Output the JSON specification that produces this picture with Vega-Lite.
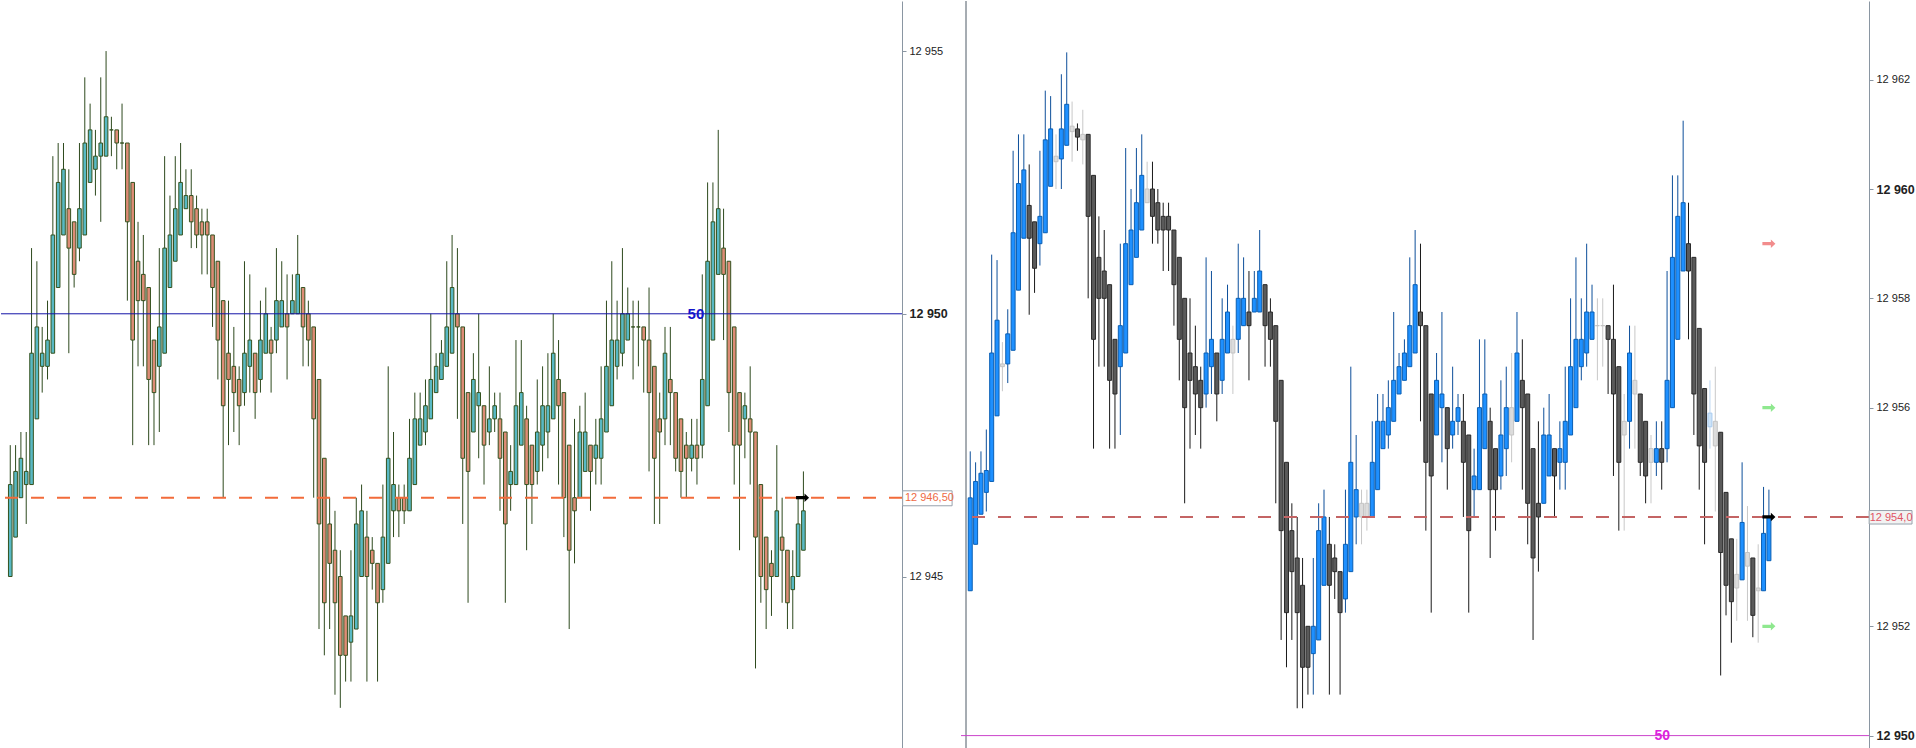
{
"$schema": "https://vega.github.io/schema/vega-lite/v6.json",
"padding": 0,
"background": "white",
"spacing": 0,
"resolve": {"scale": {"color": "independent", "fill": "independent", "stroke": "independent"}},
"config": {"view": {"stroke": null}, "font": "Liberation Sans"},
"datasets": {
"L": [
{"i":1,"o":12945,"h":12947.5,"l":12945,"c":12946.75,"k":"u"},
{"i":2,"o":12945.75,"h":12947.5,"l":12945.75,"c":12947,"k":"u"},
{"i":3,"o":12946.5,"h":12947.75,"l":12946.5,"c":12947.25,"k":"u"},
{"i":4,"o":12946.75,"h":12947.75,"l":12946,"c":12947,"k":"u"},
{"i":5,"o":12946.75,"h":12951.25,"l":12946.75,"c":12949.25,"k":"u"},
{"i":6,"o":12948,"h":12951,"l":12948,"c":12949.75,"k":"u"},
{"i":7,"o":12949,"h":12949.75,"l":12948.5,"c":12949.25,"k":"u"},
{"i":8,"o":12949,"h":12950.25,"l":12948.75,"c":12949.5,"k":"u"},
{"i":9,"o":12949.25,"h":12953,"l":12949.25,"c":12951.5,"k":"u"},
{"i":10,"o":12950.5,"h":12953.25,"l":12950.5,"c":12952.5,"k":"u"},
{"i":11,"o":12951.5,"h":12953.25,"l":12951.5,"c":12952.75,"k":"u"},
{"i":12,"o":12952,"h":12952.75,"l":12949.25,"c":12951.25,"k":"d"},
{"i":13,"o":12951.75,"h":12951.75,"l":12950.5,"c":12950.75,"k":"d"},
{"i":14,"o":12951.25,"h":12953.25,"l":12951,"c":12952,"k":"u"},
{"i":15,"o":12951.5,"h":12954.5,"l":12951.5,"c":12953.25,"k":"u"},
{"i":16,"o":12952.5,"h":12954,"l":12952.5,"c":12953.5,"k":"u"},
{"i":17,"o":12952.75,"h":12953.5,"l":12952.25,"c":12953,"k":"u"},
{"i":18,"o":12953,"h":12954.5,"l":12951.75,"c":12953.25,"k":"u"},
{"i":19,"o":12953,"h":12955,"l":12953,"c":12953.75,"k":"u"},
{"i":20,"o":12953.5,"h":12953.75,"l":12953,"c":12953.5,"k":"n"},
{"i":21,"o":12953.5,"h":12953.5,"l":12952.75,"c":12953.25,"k":"d"},
{"i":22,"o":12953.25,"h":12954,"l":12952.75,"c":12953.25,"k":"n"},
{"i":23,"o":12953.25,"h":12953.25,"l":12950.25,"c":12951.75,"k":"d"},
{"i":24,"o":12952.5,"h":12952.5,"l":12947.5,"c":12949.5,"k":"d"},
{"i":25,"o":12951,"h":12951.75,"l":12949,"c":12950.25,"k":"d"},
{"i":26,"o":12950.75,"h":12951.5,"l":12949,"c":12950.25,"k":"d"},
{"i":27,"o":12950.5,"h":12950.5,"l":12947.5,"c":12948.75,"k":"d"},
{"i":28,"o":12949.5,"h":12949.5,"l":12947.5,"c":12948.5,"k":"d"},
{"i":29,"o":12949,"h":12951.25,"l":12947.75,"c":12949.75,"k":"u"},
{"i":30,"o":12949.25,"h":12953,"l":12949.25,"c":12951.25,"k":"u"},
{"i":31,"o":12950.5,"h":12952.25,"l":12950.5,"c":12951.5,"k":"u"},
{"i":32,"o":12951,"h":12953,"l":12951,"c":12952,"k":"u"},
{"i":33,"o":12951.5,"h":12953.25,"l":12951.5,"c":12952.5,"k":"u"},
{"i":34,"o":12952,"h":12952.75,"l":12952,"c":12952.25,"k":"u"},
{"i":35,"o":12952.25,"h":12952.75,"l":12951.25,"c":12951.75,"k":"d"},
{"i":36,"o":12952,"h":12952.25,"l":12951.25,"c":12951.5,"k":"d"},
{"i":37,"o":12951.75,"h":12952,"l":12950.75,"c":12951.5,"k":"d"},
{"i":38,"o":12951.75,"h":12952,"l":12950.75,"c":12951.5,"k":"d"},
{"i":39,"o":12951.5,"h":12951.5,"l":12949.75,"c":12950.5,"k":"d"},
{"i":40,"o":12951,"h":12951,"l":12948.75,"c":12949.5,"k":"d"},
{"i":41,"o":12950.25,"h":12950.25,"l":12946.5,"c":12948.25,"k":"d"},
{"i":42,"o":12949.25,"h":12950.25,"l":12947.5,"c":12948.75,"k":"d"},
{"i":43,"o":12949,"h":12949.75,"l":12947.75,"c":12948.5,"k":"d"},
{"i":44,"o":12948.75,"h":12949,"l":12947.5,"c":12948.25,"k":"d"},
{"i":45,"o":12948.5,"h":12951,"l":12948.25,"c":12949.25,"k":"u"},
{"i":46,"o":12949,"h":12950.75,"l":12948.5,"c":12949.5,"k":"u"},
{"i":47,"o":12949.25,"h":12949.25,"l":12948,"c":12948.5,"k":"d"},
{"i":48,"o":12948.75,"h":12950.25,"l":12948.5,"c":12949.5,"k":"u"},
{"i":49,"o":12949.25,"h":12950.5,"l":12949.25,"c":12950,"k":"u"},
{"i":50,"o":12949.5,"h":12949.75,"l":12948.5,"c":12949.25,"k":"d"},
{"i":51,"o":12949.5,"h":12951.25,"l":12949.25,"c":12950.25,"k":"u"},
{"i":52,"o":12949.75,"h":12951,"l":12949.75,"c":12950.25,"k":"u"},
{"i":53,"o":12950,"h":12950.75,"l":12948.75,"c":12949.75,"k":"d"},
{"i":54,"o":12950,"h":12950.75,"l":12950,"c":12950.25,"k":"u"},
{"i":55,"o":12950,"h":12951.5,"l":12950,"c":12950.75,"k":"u"},
{"i":56,"o":12950.5,"h":12950.5,"l":12949,"c":12949.75,"k":"d"},
{"i":57,"o":12950,"h":12950.25,"l":12949,"c":12949.5,"k":"d"},
{"i":58,"o":12949.75,"h":12949.75,"l":12946.5,"c":12948,"k":"d"},
{"i":59,"o":12948.75,"h":12948.75,"l":12944,"c":12946,"k":"d"},
{"i":60,"o":12947.25,"h":12947.25,"l":12943.5,"c":12944.5,"k":"d"},
{"i":61,"o":12946,"h":12946.5,"l":12944,"c":12945.25,"k":"d"},
{"i":62,"o":12945.5,"h":12946.25,"l":12942.75,"c":12944.5,"k":"d"},
{"i":63,"o":12945,"h":12945.5,"l":12942.5,"c":12943.5,"k":"d"},
{"i":64,"o":12944.25,"h":12944.25,"l":12943,"c":12943.5,"k":"d"},
{"i":65,"o":12943.75,"h":12945.5,"l":12943,"c":12944.25,"k":"u"},
{"i":66,"o":12944,"h":12946.5,"l":12944,"c":12946,"k":"u"},
{"i":67,"o":12945,"h":12946.75,"l":12945,"c":12946.25,"k":"u"},
{"i":68,"o":12945.75,"h":12946.25,"l":12943,"c":12945,"k":"d"},
{"i":69,"o":12945.5,"h":12945.75,"l":12944.75,"c":12945.25,"k":"d"},
{"i":70,"o":12945.25,"h":12945.25,"l":12943,"c":12944.5,"k":"d"},
{"i":71,"o":12944.75,"h":12946.75,"l":12944.5,"c":12945.75,"k":"u"},
{"i":72,"o":12945.25,"h":12949,"l":12945.25,"c":12947.25,"k":"u"},
{"i":73,"o":12946.25,"h":12947.75,"l":12945.75,"c":12946.75,"k":"u"},
{"i":74,"o":12946.5,"h":12946.75,"l":12945.75,"c":12946.25,"k":"d"},
{"i":75,"o":12946.5,"h":12946.75,"l":12946,"c":12946.25,"k":"d"},
{"i":76,"o":12946.25,"h":12948,"l":12946.25,"c":12947.25,"k":"u"},
{"i":77,"o":12946.75,"h":12948.5,"l":12946.75,"c":12948,"k":"u"},
{"i":78,"o":12947.5,"h":12948.5,"l":12947.5,"c":12948,"k":"u"},
{"i":79,"o":12947.75,"h":12948.75,"l":12947.5,"c":12948.25,"k":"u"},
{"i":80,"o":12948,"h":12950,"l":12948,"c":12948.75,"k":"u"},
{"i":81,"o":12948.5,"h":12949.25,"l":12948.5,"c":12949,"k":"u"},
{"i":82,"o":12948.75,"h":12949.5,"l":12948.75,"c":12949.25,"k":"u"},
{"i":83,"o":12949,"h":12951,"l":12949,"c":12949.75,"k":"u"},
{"i":84,"o":12949.25,"h":12951.5,"l":12949.25,"c":12950.5,"k":"u"},
{"i":85,"o":12950,"h":12951.25,"l":12948,"c":12949.75,"k":"d"},
{"i":86,"o":12949.75,"h":12949.75,"l":12946,"c":12947.25,"k":"d"},
{"i":87,"o":12948.5,"h":12948.5,"l":12944.5,"c":12947,"k":"d"},
{"i":88,"o":12947.75,"h":12949.25,"l":12947.75,"c":12948.75,"k":"u"},
{"i":89,"o":12948.25,"h":12950,"l":12947.25,"c":12948.5,"k":"u"},
{"i":90,"o":12948.25,"h":12948.25,"l":12946.75,"c":12947.5,"k":"d"},
{"i":91,"o":12947.75,"h":12949,"l":12947.5,"c":12948,"k":"u"},
{"i":92,"o":12948,"h":12948.5,"l":12947.75,"c":12948.25,"k":"u"},
{"i":93,"o":12948,"h":12948.5,"l":12946.25,"c":12947.25,"k":"d"},
{"i":94,"o":12947.75,"h":12947.75,"l":12944.5,"c":12946,"k":"d"},
{"i":95,"o":12946.75,"h":12947.5,"l":12946.25,"c":12947,"k":"u"},
{"i":96,"o":12946.75,"h":12949.5,"l":12946.75,"c":12948.25,"k":"u"},
{"i":97,"o":12947.5,"h":12949.5,"l":12947.5,"c":12948.5,"k":"u"},
{"i":98,"o":12948,"h":12948.25,"l":12945.5,"c":12946.75,"k":"d"},
{"i":99,"o":12947.5,"h":12947.5,"l":12946,"c":12946.75,"k":"d"},
{"i":100,"o":12947,"h":12948.75,"l":12946.75,"c":12947.75,"k":"u"},
{"i":101,"o":12947.5,"h":12949,"l":12947,"c":12948.25,"k":"u"},
{"i":102,"o":12947.75,"h":12949.25,"l":12947.25,"c":12948.25,"k":"u"},
{"i":103,"o":12948,"h":12950,"l":12948,"c":12949.25,"k":"u"},
{"i":104,"o":12948.75,"h":12949.5,"l":12946.75,"c":12948.25,"k":"d"},
{"i":105,"o":12948.5,"h":12948.5,"l":12945.75,"c":12946.5,"k":"d"},
{"i":106,"o":12947.5,"h":12947.5,"l":12944,"c":12945.5,"k":"d"},
{"i":107,"o":12946.5,"h":12948,"l":12945.25,"c":12946.25,"k":"d"},
{"i":108,"o":12946.5,"h":12948.25,"l":12946.5,"c":12947.75,"k":"u"},
{"i":109,"o":12947,"h":12948.5,"l":12947,"c":12947.75,"k":"u"},
{"i":110,"o":12947.5,"h":12947.5,"l":12946.25,"c":12947,"k":"d"},
{"i":111,"o":12947.25,"h":12948,"l":12946.75,"c":12947.5,"k":"u"},
{"i":112,"o":12947.25,"h":12949,"l":12946.75,"c":12948,"k":"u"},
{"i":113,"o":12947.75,"h":12950.25,"l":12947.75,"c":12949,"k":"u"},
{"i":114,"o":12948.25,"h":12951,"l":12948.25,"c":12949.5,"k":"u"},
{"i":115,"o":12949,"h":12950.25,"l":12948.75,"c":12949.5,"k":"u"},
{"i":116,"o":12949.25,"h":12951.25,"l":12949,"c":12950,"k":"u"},
{"i":117,"o":12949.5,"h":12950.5,"l":12949.5,"c":12950,"k":"u"},
{"i":118,"o":12949.75,"h":12950.25,"l":12948.75,"c":12949.75,"k":"n"},
{"i":119,"o":12949.75,"h":12950.25,"l":12949,"c":12949.75,"k":"n"},
{"i":120,"o":12949.75,"h":12949.75,"l":12948.5,"c":12949.5,"k":"d"},
{"i":121,"o":12949.5,"h":12950.5,"l":12947,"c":12948.5,"k":"d"},
{"i":122,"o":12949,"h":12949,"l":12946,"c":12947.25,"k":"d"},
{"i":123,"o":12948,"h":12948.5,"l":12946,"c":12947.75,"k":"d"},
{"i":124,"o":12948,"h":12949.75,"l":12947.5,"c":12949.25,"k":"u"},
{"i":125,"o":12948.75,"h":12949.75,"l":12947.5,"c":12948.5,"k":"d"},
{"i":126,"o":12948.5,"h":12948.5,"l":12947,"c":12947.25,"k":"d"},
{"i":127,"o":12948,"h":12948,"l":12946.5,"c":12947,"k":"d"},
{"i":128,"o":12947.5,"h":12947.75,"l":12946.5,"c":12947.25,"k":"d"},
{"i":129,"o":12947.25,"h":12948,"l":12947,"c":12947.5,"k":"u"},
{"i":130,"o":12947.5,"h":12948,"l":12946.75,"c":12947.25,"k":"d"},
{"i":131,"o":12947.5,"h":12950.75,"l":12947.25,"c":12948.75,"k":"u"},
{"i":132,"o":12948.25,"h":12952.5,"l":12948.25,"c":12951,"k":"u"},
{"i":133,"o":12949.5,"h":12952.5,"l":12949.5,"c":12951.75,"k":"u"},
{"i":134,"o":12950.75,"h":12953.5,"l":12950.75,"c":12952,"k":"u"},
{"i":135,"o":12951.25,"h":12952,"l":12949.5,"c":12950.75,"k":"d"},
{"i":136,"o":12951,"h":12951,"l":12947.75,"c":12948.5,"k":"d"},
{"i":137,"o":12949.75,"h":12949.75,"l":12946.75,"c":12947.5,"k":"d"},
{"i":138,"o":12948.5,"h":12948.5,"l":12945.5,"c":12947.5,"k":"d"},
{"i":139,"o":12948,"h":12948.5,"l":12947.25,"c":12948.25,"k":"u"},
{"i":140,"o":12948,"h":12949,"l":12946.75,"c":12947.75,"k":"d"},
{"i":141,"o":12947.75,"h":12947.75,"l":12943.25,"c":12945.75,"k":"d"},
{"i":142,"o":12946.75,"h":12946.75,"l":12944.5,"c":12945,"k":"d"},
{"i":143,"o":12945.75,"h":12945.75,"l":12944,"c":12944.75,"k":"d"},
{"i":144,"o":12945.25,"h":12945.5,"l":12944.25,"c":12945,"k":"d"},
{"i":145,"o":12945,"h":12947.5,"l":12945,"c":12946.25,"k":"u"},
{"i":146,"o":12945.75,"h":12946.5,"l":12944.5,"c":12945.5,"k":"d"},
{"i":147,"o":12945.5,"h":12945.5,"l":12944,"c":12944.5,"k":"d"},
{"i":148,"o":12944.75,"h":12945.5,"l":12944,"c":12945,"k":"u"},
{"i":149,"o":12945,"h":12946.5,"l":12945,"c":12946,"k":"u"},
{"i":150,"o":12945.5,"h":12947,"l":12945.5,"c":12946.25,"k":"u"}
],
"R": [
{"i":1,"o":12952.65,"h":12955.2,"l":12952.65,"c":12954.35,"k":"u"},
{"i":2,"o":12953.5,"h":12955,"l":12953.5,"c":12954.65,"k":"u"},
{"i":3,"o":12954.05,"h":12955.2,"l":12954.05,"c":12954.8,"k":"u"},
{"i":4,"o":12954.45,"h":12955.6,"l":12954.1,"c":12954.85,"k":"u"},
{"i":5,"o":12954.65,"h":12958.8,"l":12954.65,"c":12957,"k":"u"},
{"i":6,"o":12955.85,"h":12958.7,"l":12955.85,"c":12957.6,"k":"u"},
{"i":7,"o":12956.75,"h":12957.2,"l":12956.3,"c":12956.8,"k":"g"},
{"i":8,"o":12956.8,"h":12957.8,"l":12956.45,"c":12957.35,"k":"u"},
{"i":9,"o":12957.05,"h":12960.7,"l":12957.05,"c":12959.2,"k":"u"},
{"i":10,"o":12958.15,"h":12961,"l":12958.15,"c":12960.1,"k":"u"},
{"i":11,"o":12959.1,"h":12961,"l":12959.1,"c":12960.35,"k":"u"},
{"i":12,"o":12959.7,"h":12960.45,"l":12957.7,"c":12959.1,"k":"d"},
{"i":13,"o":12959.4,"h":12959.4,"l":12958.1,"c":12958.55,"k":"d"},
{"i":14,"o":12959,"h":12960.7,"l":12958.6,"c":12959.5,"k":"u"},
{"i":15,"o":12959.2,"h":12961.8,"l":12959.2,"c":12960.9,"k":"u"},
{"i":16,"o":12960.05,"h":12961.7,"l":12960.05,"c":12961.1,"k":"u"},
{"i":17,"o":12960.5,"h":12961,"l":12960,"c":12960.6,"k":"g"},
{"i":18,"o":12960.55,"h":12962.1,"l":12960,"c":12961.1,"k":"u"},
{"i":19,"o":12960.8,"h":12962.5,"l":12960.8,"c":12961.55,"k":"u"},
{"i":20,"o":12961.05,"h":12961.6,"l":12960.5,"c":12961.15,"k":"g"},
{"i":21,"o":12961.1,"h":12961.2,"l":12960.7,"c":12960.95,"k":"d"},
{"i":22,"o":12960.9,"h":12961.45,"l":12960.45,"c":12961,"k":"g"},
{"i":23,"o":12961,"h":12961,"l":12958,"c":12959.5,"k":"d"},
{"i":24,"o":12960.25,"h":12960.25,"l":12955.25,"c":12957.25,"k":"d"},
{"i":25,"o":12958.75,"h":12959.5,"l":12956.75,"c":12958,"k":"d"},
{"i":26,"o":12958.5,"h":12959.25,"l":12956.75,"c":12958,"k":"d"},
{"i":27,"o":12958.25,"h":12958.25,"l":12955.25,"c":12956.5,"k":"d"},
{"i":28,"o":12957.25,"h":12957.25,"l":12955.25,"c":12956.25,"k":"d"},
{"i":29,"o":12956.75,"h":12959,"l":12955.5,"c":12957.5,"k":"u"},
{"i":30,"o":12957,"h":12960.75,"l":12957,"c":12959,"k":"u"},
{"i":31,"o":12958.25,"h":12960,"l":12958.25,"c":12959.25,"k":"u"},
{"i":32,"o":12958.75,"h":12960.75,"l":12958.75,"c":12959.75,"k":"u"},
{"i":33,"o":12959.25,"h":12961,"l":12959.25,"c":12960.25,"k":"u"},
{"i":34,"o":12959.75,"h":12960.5,"l":12959.75,"c":12960,"k":"g"},
{"i":35,"o":12960,"h":12960.5,"l":12959,"c":12959.5,"k":"d"},
{"i":36,"o":12959.75,"h":12960,"l":12959,"c":12959.25,"k":"d"},
{"i":37,"o":12959.5,"h":12959.75,"l":12958.5,"c":12959.25,"k":"d"},
{"i":38,"o":12959.5,"h":12959.75,"l":12958.5,"c":12959.25,"k":"d"},
{"i":39,"o":12959.25,"h":12959.25,"l":12957.5,"c":12958.25,"k":"d"},
{"i":40,"o":12958.75,"h":12958.75,"l":12956.5,"c":12957.25,"k":"d"},
{"i":41,"o":12958,"h":12958,"l":12954.25,"c":12956,"k":"d"},
{"i":42,"o":12957,"h":12958,"l":12955.25,"c":12956.5,"k":"d"},
{"i":43,"o":12956.75,"h":12957.5,"l":12955.5,"c":12956.25,"k":"d"},
{"i":44,"o":12956.5,"h":12956.75,"l":12955.25,"c":12956,"k":"d"},
{"i":45,"o":12956.25,"h":12958.75,"l":12956,"c":12957,"k":"u"},
{"i":46,"o":12956.75,"h":12958.5,"l":12956.25,"c":12957.25,"k":"u"},
{"i":47,"o":12957,"h":12957,"l":12955.75,"c":12956.25,"k":"d"},
{"i":48,"o":12956.5,"h":12958,"l":12956.25,"c":12957.25,"k":"u"},
{"i":49,"o":12957,"h":12958.25,"l":12957,"c":12957.75,"k":"u"},
{"i":50,"o":12957.25,"h":12957.5,"l":12956.25,"c":12957,"k":"g"},
{"i":51,"o":12957.25,"h":12959,"l":12957,"c":12958,"k":"u"},
{"i":52,"o":12957.5,"h":12958.75,"l":12957.5,"c":12958,"k":"u"},
{"i":53,"o":12957.75,"h":12958.5,"l":12956.5,"c":12957.5,"k":"d"},
{"i":54,"o":12957.75,"h":12958.5,"l":12957.75,"c":12958,"k":"u"},
{"i":55,"o":12957.75,"h":12959.25,"l":12957.75,"c":12958.5,"k":"u"},
{"i":56,"o":12958.25,"h":12958.25,"l":12956.75,"c":12957.5,"k":"d"},
{"i":57,"o":12957.75,"h":12958,"l":12956.75,"c":12957.25,"k":"d"},
{"i":58,"o":12957.5,"h":12957.5,"l":12954.25,"c":12955.75,"k":"d"},
{"i":59,"o":12956.5,"h":12956.5,"l":12951.75,"c":12953.75,"k":"d"},
{"i":60,"o":12955,"h":12955,"l":12951.25,"c":12952.25,"k":"d"},
{"i":61,"o":12953.75,"h":12954.25,"l":12951.75,"c":12953,"k":"d"},
{"i":62,"o":12953.25,"h":12954,"l":12950.5,"c":12952.25,"k":"d"},
{"i":63,"o":12952.75,"h":12953.25,"l":12950.5,"c":12951.25,"k":"d"},
{"i":64,"o":12952,"h":12952,"l":12950.75,"c":12951.25,"k":"d"},
{"i":65,"o":12951.5,"h":12953.25,"l":12950.75,"c":12952,"k":"u"},
{"i":66,"o":12951.75,"h":12954.25,"l":12951.75,"c":12953.75,"k":"u"},
{"i":67,"o":12952.75,"h":12954.5,"l":12952.75,"c":12954,"k":"u"},
{"i":68,"o":12953.5,"h":12954,"l":12950.75,"c":12952.75,"k":"d"},
{"i":69,"o":12953.25,"h":12953.5,"l":12952.5,"c":12953,"k":"d"},
{"i":70,"o":12953,"h":12953,"l":12950.75,"c":12952.25,"k":"d"},
{"i":71,"o":12952.5,"h":12954.5,"l":12952.25,"c":12953.5,"k":"u"},
{"i":72,"o":12953,"h":12956.75,"l":12953,"c":12955,"k":"u"},
{"i":73,"o":12954,"h":12955.5,"l":12953.5,"c":12954.5,"k":"u"},
{"i":74,"o":12954.25,"h":12954.5,"l":12953.5,"c":12954,"k":"g"},
{"i":75,"o":12954.25,"h":12954.5,"l":12953.75,"c":12954,"k":"g"},
{"i":76,"o":12954,"h":12955.75,"l":12954,"c":12955,"k":"u"},
{"i":77,"o":12954.5,"h":12956.25,"l":12954.5,"c":12955.75,"k":"u"},
{"i":78,"o":12955.25,"h":12956.25,"l":12955.25,"c":12955.75,"k":"u"},
{"i":79,"o":12955.5,"h":12956.5,"l":12955.25,"c":12956,"k":"u"},
{"i":80,"o":12955.75,"h":12957.75,"l":12955.75,"c":12956.5,"k":"u"},
{"i":81,"o":12956.25,"h":12957,"l":12956.25,"c":12956.75,"k":"u"},
{"i":82,"o":12956.5,"h":12957.25,"l":12956.5,"c":12957,"k":"u"},
{"i":83,"o":12956.75,"h":12958.75,"l":12956.75,"c":12957.5,"k":"u"},
{"i":84,"o":12957,"h":12959.25,"l":12957,"c":12958.25,"k":"u"},
{"i":85,"o":12957.75,"h":12959,"l":12955.75,"c":12957.5,"k":"d"},
{"i":86,"o":12957.5,"h":12957.5,"l":12953.75,"c":12955,"k":"d"},
{"i":87,"o":12956.25,"h":12956.25,"l":12952.25,"c":12954.75,"k":"d"},
{"i":88,"o":12955.5,"h":12957,"l":12955.5,"c":12956.5,"k":"u"},
{"i":89,"o":12956,"h":12957.75,"l":12955,"c":12956.25,"k":"u"},
{"i":90,"o":12956,"h":12956,"l":12954.5,"c":12955.25,"k":"d"},
{"i":91,"o":12955.5,"h":12956.75,"l":12955.25,"c":12955.75,"k":"u"},
{"i":92,"o":12955.75,"h":12956.25,"l":12955.5,"c":12956,"k":"u"},
{"i":93,"o":12955.75,"h":12956.25,"l":12954,"c":12955,"k":"d"},
{"i":94,"o":12955.5,"h":12955.5,"l":12952.25,"c":12953.75,"k":"d"},
{"i":95,"o":12954.5,"h":12955.25,"l":12954,"c":12954.75,"k":"u"},
{"i":96,"o":12954.5,"h":12957.25,"l":12954.5,"c":12956,"k":"u"},
{"i":97,"o":12955.25,"h":12957.25,"l":12955.25,"c":12956.25,"k":"u"},
{"i":98,"o":12955.75,"h":12956,"l":12953.25,"c":12954.5,"k":"d"},
{"i":99,"o":12955.25,"h":12955.25,"l":12953.75,"c":12954.5,"k":"d"},
{"i":100,"o":12954.75,"h":12956.5,"l":12954.5,"c":12955.5,"k":"u"},
{"i":101,"o":12955.25,"h":12956.75,"l":12954.75,"c":12956,"k":"u"},
{"i":102,"o":12955.5,"h":12957,"l":12955,"c":12956,"k":"g"},
{"i":103,"o":12955.75,"h":12957.75,"l":12955.75,"c":12957,"k":"u"},
{"i":104,"o":12956.5,"h":12957.25,"l":12954.5,"c":12956,"k":"d"},
{"i":105,"o":12956.25,"h":12956.25,"l":12953.5,"c":12954.25,"k":"d"},
{"i":106,"o":12955.25,"h":12955.25,"l":12951.75,"c":12953.25,"k":"d"},
{"i":107,"o":12954.25,"h":12955.75,"l":12953,"c":12954,"k":"d"},
{"i":108,"o":12954.25,"h":12956,"l":12954.25,"c":12955.5,"k":"u"},
{"i":109,"o":12954.75,"h":12956.25,"l":12954.75,"c":12955.5,"k":"u"},
{"i":110,"o":12955.25,"h":12955.25,"l":12954,"c":12954.75,"k":"d"},
{"i":111,"o":12955,"h":12955.75,"l":12954.5,"c":12955.25,"k":"u"},
{"i":112,"o":12955,"h":12956.75,"l":12954.5,"c":12955.75,"k":"u"},
{"i":113,"o":12955.5,"h":12958,"l":12955.5,"c":12956.75,"k":"u"},
{"i":114,"o":12956,"h":12958.75,"l":12956,"c":12957.25,"k":"u"},
{"i":115,"o":12956.75,"h":12958,"l":12956.5,"c":12957.25,"k":"u"},
{"i":116,"o":12957,"h":12959,"l":12956.75,"c":12957.75,"k":"u"},
{"i":117,"o":12957.25,"h":12958.25,"l":12957.25,"c":12957.75,"k":"u"},
{"i":118,"o":12957.5,"h":12958,"l":12956.5,"c":12957.5,"k":"g"},
{"i":119,"o":12957.5,"h":12958,"l":12956.75,"c":12957.5,"k":"g"},
{"i":120,"o":12957.5,"h":12957.5,"l":12956.25,"c":12957.25,"k":"d"},
{"i":121,"o":12957.25,"h":12958.25,"l":12954.75,"c":12956.25,"k":"d"},
{"i":122,"o":12956.75,"h":12956.75,"l":12953.75,"c":12955,"k":"d"},
{"i":123,"o":12955.75,"h":12956.25,"l":12953.75,"c":12955.5,"k":"g"},
{"i":124,"o":12955.75,"h":12957.5,"l":12955.25,"c":12957,"k":"u"},
{"i":125,"o":12956.5,"h":12957.5,"l":12955.25,"c":12956.25,"k":"g"},
{"i":126,"o":12956.25,"h":12956.25,"l":12954.75,"c":12955,"k":"d"},
{"i":127,"o":12955.75,"h":12955.75,"l":12954.25,"c":12954.75,"k":"d"},
{"i":128,"o":12955.25,"h":12955.5,"l":12954.25,"c":12955,"k":"g"},
{"i":129,"o":12955,"h":12955.75,"l":12954.75,"c":12955.25,"k":"u"},
{"i":130,"o":12955.25,"h":12955.75,"l":12954.5,"c":12955,"k":"d"},
{"i":131,"o":12955.25,"h":12958.5,"l":12955,"c":12956.5,"k":"u"},
{"i":132,"o":12956,"h":12960.25,"l":12956,"c":12958.75,"k":"u"},
{"i":133,"o":12957.25,"h":12960.25,"l":12957.25,"c":12959.5,"k":"u"},
{"i":134,"o":12958.5,"h":12961.25,"l":12958.5,"c":12959.75,"k":"u"},
{"i":135,"o":12959,"h":12959.75,"l":12957.25,"c":12958.5,"k":"d"},
{"i":136,"o":12958.75,"h":12958.75,"l":12955.5,"c":12956.25,"k":"d"},
{"i":137,"o":12957.45,"h":12957.45,"l":12954.5,"c":12955.3,"k":"d"},
{"i":138,"o":12956.35,"h":12956.35,"l":12953.5,"c":12955,"k":"d"},
{"i":139,"o":12955.65,"h":12956.5,"l":12955.25,"c":12955.9,"k":"b"},
{"i":140,"o":12955.75,"h":12956.75,"l":12954.1,"c":12955.3,"k":"g"},
{"i":141,"o":12955.55,"h":12955.55,"l":12951.1,"c":12953.35,"k":"d"},
{"i":142,"o":12954.45,"h":12954.45,"l":12952.2,"c":12952.75,"k":"d"},
{"i":143,"o":12953.6,"h":12953.6,"l":12951.7,"c":12952.45,"k":"d"},
{"i":144,"o":12952.95,"h":12953.6,"l":12952.1,"c":12952.7,"k":"g"},
{"i":145,"o":12952.85,"h":12955,"l":12952.85,"c":12953.9,"k":"u"},
{"i":146,"o":12953.35,"h":12954.2,"l":12952.1,"c":12953.1,"k":"g"},
{"i":147,"o":12953.25,"h":12953.25,"l":12951.8,"c":12952.2,"k":"d"},
{"i":148,"o":12952.65,"h":12953.5,"l":12951.7,"c":12952.7,"k":"g"},
{"i":149,"o":12952.65,"h":12954.55,"l":12952.65,"c":12953.7,"k":"u"},
{"i":150,"o":12953.2,"h":12954.5,"l":12953.2,"c":12954,"k":"u"}
]
},
"hconcat": [
{
"width": 901, "height": 748,
"layer": [
{"data": {"name": "L"}, "mark": {"type": "rule", "color": "#2E4A1E", "strokeWidth": 1},
 "encoding": {
  "x": {"field": "i", "type": "quantitative", "scale": {"domain": [0.2, 167.58], "nice": false, "zero": false}, "axis": null},
  "y": {"field": "l", "type": "quantitative", "title": null, "scale": {"domain": [12941.717, 12955.953], "nice": false, "zero": false},
   "axis": {"orient": "right", "values": [12945, 12950, 12955], "title": null, "grid": false, "domainColor": "#8a96a2", "tickColor": "#8a96a2", "tickSize": 4, "labelPadding": 3, "labelColor": "#222222", "labelFont": "Liberation Sans",
    "labelFontSize": {"condition": {"test": "datum.value == 12950", "value": 12.5}, "value": 11},
    "labelFontWeight": {"condition": {"test": "datum.value == 12950", "value": "bold"}, "value": "normal"},
    "labelExpr": "replace(format(datum.value, ',d'), ',', ' ')", "minExtent": 58, "maxExtent": 58}},
  "y2": {"field": "h"}}},
{"data": {"name": "L"}, "mark": {"type": "bar", "width": 3.6, "stroke": "#34521F", "strokeWidth": 1},
 "encoding": {
  "x": {"field": "i", "type": "quantitative", "axis": null},
  "y": {"field": "o", "type": "quantitative", "title": null},
  "y2": {"field": "c"},
  "color": {"field": "k", "type": "nominal", "legend": null, "scale": {"domain": ["u", "d", "n"], "range": ["#58B9C4", "#DD8C76", "#C9A77A"]}}}},
{"data": {"values": [{}]}, "mark": {"type": "rule", "color": "#1414A8", "strokeWidth": 1},
 "encoding": {"y": {"datum": 12950, "type": "quantitative", "title": null}}},
{"data": {"values": [{}]}, "mark": {"type": "rule", "color": "#F26B3A", "strokeWidth": 2, "strokeDash": [13, 13]},
 "encoding": {"y": {"datum": 12946.5, "type": "quantitative", "title": null}}},
{"data": {"values": [{}]}, "mark": {"type": "text", "text": "50", "color": "#1515CC", "fontWeight": "bold", "fontSize": 15, "font": "Liberation Sans", "align": "center", "baseline": "middle"},
 "encoding": {"x": {"datum": 129.8, "type": "quantitative", "axis": null}, "y": {"datum": 12950, "type": "quantitative", "title": null}}},
{"data": {"values": [{}]}, "mark": {"type": "point", "shape": "M-1,-0.25L0.3,-0.25L0.3,-0.65L1,0L0.3,0.65L0.3,0.25L-1,0.25Z", "filled": true, "size": 170, "color": "#000000", "opacity": 1},
 "encoding": {"x": {"datum": 149.84, "type": "quantitative", "axis": null}, "y": {"datum": 12946.5, "type": "quantitative", "title": null}}},
{"data": {"values": [{}]}, "mark": {"type": "rect", "fill": "#FFFFFF", "stroke": "#98A2AC", "strokeWidth": 1},
 "encoding": {"x": {"datum": 168.64, "type": "quantitative", "axis": null}, "x2": {"datum": 177.93}, "y": {"datum": 12946.631, "type": "quantitative", "title": null}, "y2": {"datum": 12946.346}}},
{"data": {"values": [{}]}, "mark": {"type": "text", "text": "12 946,50", "color": "#EE6A44", "fontSize": 11, "font": "Liberation Sans", "align": "left", "baseline": "middle"},
 "encoding": {"x": {"datum": 169.07, "type": "quantitative", "axis": null}, "y": {"datum": 12946.49, "type": "quantitative", "title": null}}}
]
},
{
"width": 908, "height": 748,
"layer": [
{"data": {"name": "R"}, "mark": {"type": "rule", "strokeWidth": 1},
 "encoding": {
  "x": {"field": "i", "type": "quantitative", "scale": {"domain": [0.21, 167.74], "nice": false, "zero": false}, "axis": null},
  "y": {"field": "l", "type": "quantitative", "title": null, "scale": {"domain": [12949.755, 12963.44], "nice": false, "zero": false},
   "axis": {"orient": "right", "values": [12950, 12952, 12956, 12958, 12960, 12962], "title": null, "grid": false, "domainColor": "#8a96a2", "tickColor": "#8a96a2", "tickSize": 4, "labelPadding": 3, "labelColor": "#222222", "labelFont": "Liberation Sans",
    "labelFontSize": {"condition": {"test": "datum.value == 12950 || datum.value == 12960", "value": 12.5}, "value": 11},
    "labelFontWeight": {"condition": {"test": "datum.value == 12950 || datum.value == 12960", "value": "bold"}, "value": "normal"},
    "labelExpr": "replace(format(datum.value, ',d'), ',', ' ')", "minExtent": 49, "maxExtent": 49}},
  "y2": {"field": "h"},
  "color": {"field": "k", "type": "nominal", "legend": null, "scale": {"domain": ["u", "d", "g", "b"], "range": ["#0D4F9A", "#1A1A1A", "#C8C8C8", "#BBD7F2"]}}}},
{"data": {"name": "R"}, "mark": {"type": "bar", "width": 4, "strokeWidth": 1},
 "encoding": {
  "x": {"field": "i", "type": "quantitative", "axis": null},
  "y": {"field": "o", "type": "quantitative", "title": null},
  "y2": {"field": "c"},
  "fill": {"field": "k", "type": "nominal", "legend": null, "scale": {"domain": ["u", "d", "g", "b"], "range": ["#1E90FF", "#5A5A5A", "#DCDCDC", "#CCE3F8"]}},
  "stroke": {"field": "k", "type": "nominal", "legend": null, "scale": {"domain": ["u", "d", "g", "b"], "range": ["#0A5FB4", "#2A2A2A", "#C4C4C4", "#A9CBEF"]}}}},
{"data": {"values": [{}]}, "mark": {"type": "rule", "color": "#4F5B66", "strokeWidth": 1},
 "encoding": {"x": {"datum": 0.21, "type": "quantitative", "axis": null}}},
{"data": {"values": [{}]}, "mark": {"type": "rule", "color": "#CC44CC", "strokeWidth": 1},
 "encoding": {"y": {"datum": 12950, "type": "quantitative", "title": null}}},
{"data": {"values": [{}]}, "mark": {"type": "rule", "color": "#C46464", "strokeWidth": 2, "strokeDash": [13, 13]},
 "encoding": {"y": {"datum": 12954, "type": "quantitative", "title": null}}},
{"data": {"values": [{}]}, "mark": {"type": "text", "text": "50", "color": "#DD22DD", "fontWeight": "bold", "fontSize": 14, "font": "Liberation Sans", "align": "center", "baseline": "middle"},
 "encoding": {"x": {"datum": 130.1, "type": "quantitative", "axis": null}, "y": {"datum": 12950, "type": "quantitative", "title": null}}},
{"data": {"values": [{"p": 12959}]},
 "mark": {"type": "point", "shape": "M-1,-0.25L0.3,-0.25L0.3,-0.65L1,0L0.3,0.65L0.3,0.25L-1,0.25Z", "filled": true, "size": 170, "opacity": 1, "color": "#F28C8C"},
 "encoding": {"x": {"datum": 150.0, "type": "quantitative", "axis": null}, "y": {"field": "p", "type": "quantitative", "title": null}}},
{"data": {"values": [{"p": 12956}, {"p": 12952}]},
 "mark": {"type": "point", "shape": "M-1,-0.25L0.3,-0.25L0.3,-0.65L1,0L0.3,0.65L0.3,0.25L-1,0.25Z", "filled": true, "size": 170, "opacity": 1, "color": "#8FE88F"},
 "encoding": {"x": {"datum": 150.0, "type": "quantitative", "axis": null}, "y": {"field": "p", "type": "quantitative", "title": null}}},
{"data": {"values": [{"p": 12954}]},
 "mark": {"type": "point", "shape": "M-1,-0.25L0.3,-0.25L0.3,-0.65L1,0L0.3,0.65L0.3,0.25L-1,0.25Z", "filled": true, "size": 170, "opacity": 1, "color": "#000000"},
 "encoding": {"x": {"datum": 150.0, "type": "quantitative", "axis": null}, "y": {"field": "p", "type": "quantitative", "title": null}}},
{"data": {"values": [{}]}, "mark": {"type": "rect", "fill": "#F2F2F2", "stroke": "#98A2AC", "strokeWidth": 1},
 "encoding": {"x": {"datum": 168.7, "type": "quantitative", "axis": null}, "x2": {"datum": 176.7}, "y": {"datum": 12954.118, "type": "quantitative", "title": null}, "y2": {"datum": 12953.871}}},
{"data": {"values": [{}]}, "mark": {"type": "text", "text": "12 954,0", "color": "#E05565", "fontSize": 11, "font": "Liberation Sans", "align": "left", "baseline": "middle"},
 "encoding": {"x": {"datum": 168.8, "type": "quantitative", "axis": null}, "y": {"datum": 12953.99, "type": "quantitative", "title": null}}}
]
}
]
}
